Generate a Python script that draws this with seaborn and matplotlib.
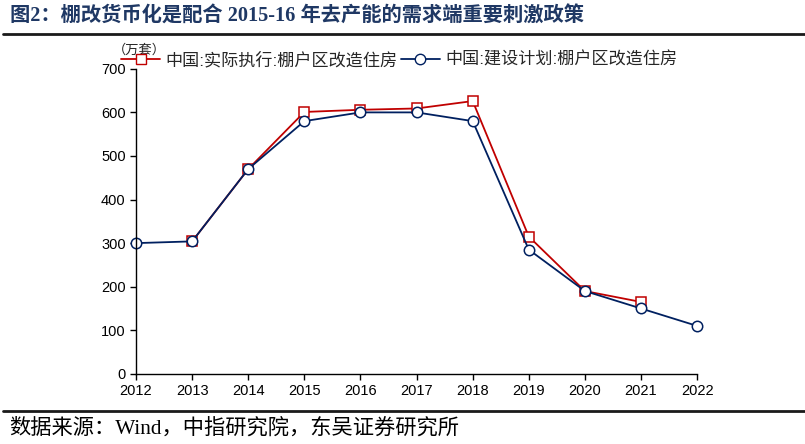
import numpy as np
import pandas as pd
import seaborn as sns
import matplotlib.pyplot as plt
from matplotlib.lines import Line2D

sns.set_theme(style='ticks')
plt.rcParams['font.family'] = ['Liberation Sans', 'Noto Sans CJK SC']

years = [2012, 2013, 2014, 2015, 2016, 2017, 2018, 2019, 2020, 2021, 2022]
actual = [np.nan, 304, 470, 601, 606, 609, 626, 315, 190, 165, np.nan]
plan = [300, 304, 470, 580, 600, 600, 580, 285, 190, 150, 110]

label_actual = '中国:实际执行:棚户区改造住房'
label_plan = '中国:建设计划:棚户区改造住房'

red = '#C00000'
navy = '#002060'

df = pd.DataFrame({'year': years, 'actual': actual, 'plan': plan})

fig = plt.figure(figsize=(8.05, 4.44), dpi=100)
ax = fig.add_axes([0.169, 0.158, 0.697, 0.687])

sns.lineplot(data=df, x='year', y='actual', ax=ax, color=red, lw=1.3,
             marker='s', markersize=7, markerfacecolor='white',
             markeredgecolor=red, markeredgewidth=1.1, clip_on=False)
sns.lineplot(data=df, x='year', y='plan', ax=ax, color=navy, lw=1.3,
             marker='o', markersize=7.5, markerfacecolor='white',
             markeredgecolor=navy, markeredgewidth=1.1, clip_on=False)

ax.set_xlim(2012, 2022)
ax.set_ylim(0, 700)
ax.set_xticks(years)
ax.set_yticks(range(0, 701, 100))
ax.set_xlabel('')
ax.set_ylabel('')
ax.tick_params(labelsize=10.5, length=4, width=1, color='black', labelcolor='black')
for s in ['top', 'right']:
    ax.spines[s].set_visible(False)
for s in ['left', 'bottom']:
    ax.spines[s].set_color('black')
    ax.spines[s].set_linewidth(1)

handles = [
    Line2D([], [], color=red, lw=1.3, marker='s', markersize=7,
           markerfacecolor='white', markeredgecolor=red, label=label_actual),
    Line2D([], [], color=navy, lw=1.3, marker='o', markersize=7.5,
           markerfacecolor='white', markeredgecolor=navy, label=label_plan),
]
ax.legend(handles=handles, loc='center left', bbox_to_anchor=(-0.027, 1.03),
          ncol=2, frameon=False, fontsize=12.3, handlelength=2.3,
          handletextpad=0.3, columnspacing=0.2, borderaxespad=0,
          borderpad=0)

ax.text(-0.042, 1.06, '（万套）', transform=ax.transAxes, fontsize=9.5,
        ha='left', va='center', family=['Noto Sans CJK SC'])

fig.text(0.012, 0.962, '图2：棚改货币化是配合 2015-16 年去产能的需求端重要刺激政策',
         fontsize=14.6, fontweight='bold', color='#1F3864', ha='left', va='center',
         family=['Liberation Serif', 'Noto Sans CJK SC'])
fig.add_artist(Line2D([0.004, 1.0], [0.924, 0.924], color='#1a1a1a', lw=2))
fig.add_artist(Line2D([0.004, 1.0], [0.075, 0.075], color='#1a1a1a', lw=2))
fig.text(0.012, 0.036, '数据来源：Wind，中指研究院，东吴证券研究所',
         fontsize=15.3, color='black', ha='left', va='center',
         family=['Liberation Serif', 'Noto Sans CJK SC'])

fig.savefig('out.png', dpi=100)
